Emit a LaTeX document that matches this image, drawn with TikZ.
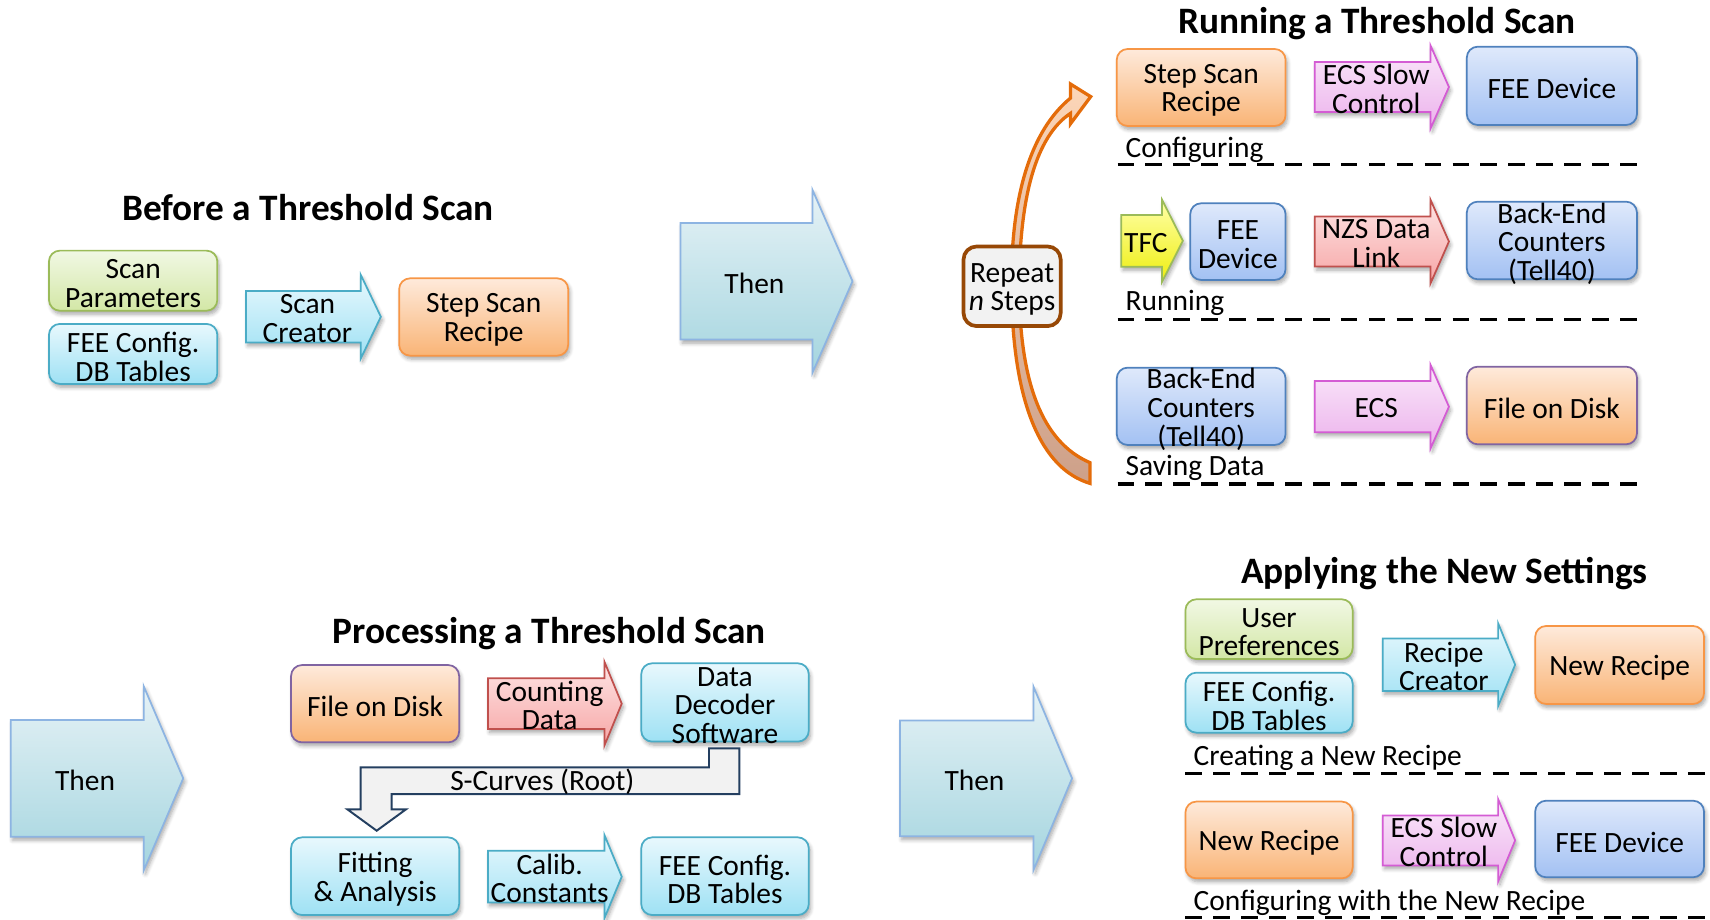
\documentclass[tikz,border=0pt]{standalone}
\usepackage{fontspec}
\setmainfont{Carlito}
\usetikzlibrary{shadows.blur}

% accent colours: borders
\definecolor{grnB}{HTML}{9BBB59}
\definecolor{cyaB}{HTML}{4BACC6}
\definecolor{orgB}{HTML}{F79646}
\definecolor{bluB}{HTML}{4F81BD}
\definecolor{purB}{HTML}{8064A2}
\definecolor{pnkB}{HTML}{D45CD4}
\definecolor{redB}{HTML}{C0504D}
\definecolor{thnB}{HTML}{8DB4E2}
\definecolor{brnB}{HTML}{974806}
\definecolor{crvB}{HTML}{E46C0A}
\definecolor{navB}{HTML}{243F60}
% gradient fills
\definecolor{grnT}{HTML}{F1F8E4}\definecolor{grnD}{HTML}{D3E7A6}
\definecolor{cyaT}{HTML}{E8F8FD}\definecolor{cyaD}{HTML}{9EE1F4}
\definecolor{orgT}{HTML}{FEEADB}\definecolor{orgD}{HTML}{F9B476}
\definecolor{bluT}{HTML}{DFE9FB}\definecolor{bluD}{HTML}{A3C1F3}
\definecolor{pnkT}{HTML}{FAE8FA}\definecolor{pnkD}{HTML}{ECB2EC}
\definecolor{redT}{HTML}{FDE4E4}\definecolor{redD}{HTML}{F7A6A6}
\definecolor{ylwT}{HTML}{FFFFA8}\definecolor{ylwD}{HTML}{EEEE10}
\definecolor{thnT}{HTML}{E6F2F6}\definecolor{thnD}{HTML}{A4D5DF}
\definecolor{crvT}{HTML}{FCD6B8}\definecolor{crvD}{HTML}{CDA089}
\definecolor{lgray}{HTML}{F2F2F2}

\newcommand\boxfont{\fontsize{13.5}{13.1}\selectfont}
\newcommand\headfont{\fontsize{17.1}{18}\selectfont\bfseries}

% rounded box from its corners: style, name, x1, y1, x2, y2, text
\newcommand\roundbox[7]{%
  \node[#1, minimum width={(#5-#3)*0.5pt}, minimum height={(#6-#4)*0.5pt}]
    (#2) at ({(#3+#5)/2},{(#4+#6)/2}) {};
  \node[boxtext] (#2-text) at ([yshift=-1.4pt]#2.center) {#7};}
% block arrow: style, name, x left, x head base, x tip, y centre,
% half body height, half head height, text
\newcommand\blockarrow[9]{%
  \path[#1] ({#3},{#6-#7}) -- ({#4},{#6-#7}) -- ({#4},{#6-#8}) -- ({#5},{#6})
    -- ({#4},{#6+#8}) -- ({#4},{#6+#7}) -- ({#3},{#6+#7}) -- cycle;
  \node[boxtext] (#2) at ({(#3+#4)/2+(#5-#4)*0.2},{#6+1.6}) {#9};}

\tikzset{
  softshadow/.style={blur shadow={shadow xshift=0.8pt, shadow yshift=-1.6pt,
      shadow blur radius=1.8pt, shadow blur steps=6, shadow opacity=35}},
  box/.style={draw, rounded corners=5pt, line width=0.8pt, inner sep=0pt, softshadow},
  boxtext/.style={align=center, inner sep=0pt, font=\boxfont},
  greenbox/.style={box, draw=grnB, top color=grnT, bottom color=grnD},
  cyanbox/.style={box, draw=cyaB, top color=cyaT, bottom color=cyaD},
  orangebox/.style={box, draw=orgB, top color=orgT, bottom color=orgD},
  diskbox/.style={box, draw=purB, top color=orgT, bottom color=orgD},
  bluebox/.style={box, draw=bluB, top color=bluT, bottom color=bluD},
  arrowshape/.style={line width=0.8pt, line join=miter, softshadow},
  cyanarrow/.style={arrowshape, draw=cyaB, top color=cyaT, bottom color=cyaD},
  pinkarrow/.style={arrowshape, draw=pnkB, top color=pnkT, bottom color=pnkD},
  redarrow/.style={arrowshape, draw=redB, top color=redT, bottom color=redD},
  yellowarrow/.style={arrowshape, draw=grnB, top color=ylwT, bottom color=ylwD},
  thenarrow/.style={arrowshape, draw=thnB, top color=thnT, bottom color=thnD},
  heading/.style={anchor=base, inner sep=0pt, font=\headfont},
  stage/.style={anchor=base west, inner sep=0pt, font=\boxfont},
  sepline/.style={line width=1.6pt, dash pattern=on 7.6pt off 5.2pt},
  repeatbox/.style={draw=brnB, line width=1.7pt, fill=lgray, rounded corners=6pt,
      inner sep=0pt},
  looparrow/.style={draw=crvB, line width=1.5pt, line join=miter,
      top color=crvT, bottom color=crvD},
  bentarrow/.style={draw=navB, line width=0.9pt, fill=lgray, line join=miter},
}

\begin{document}
\begin{tikzpicture}[x=0.5pt, y=-0.5pt]
\useasboundingbox (0,0) rectangle (1568,843);

% ---------- Before a Threshold Scan ----------
\node[heading] (hBefore) at (282.5,202.5) {Before a Threshold Scan};
\roundbox{greenbox}{scanpar}{44.9}{229.8}{199.3}{284.9}{Scan\\Parameters}
\roundbox{cyanbox}{feecfgA}{44.9}{297}{199.3}{352}{FEE Config.\\DB Tables}
\blockarrow{cyanarrow}{scancreator}{225.6}{330.9}{349.2}{290.4}{23.6}{38.2}{Scan\\Creator}
\roundbox{orangebox}{recipeA}{366}{255.2}{521}{326.1}{Step Scan\\Recipe}

\blockarrow{thenarrow}{thenA}{623.9}{745}{781.7}{257.9}{53.5}{83.8}{Then}

% ---------- Running a Threshold Scan ----------
\node[heading] (hRunning) at (1262.5,30.6) {Running a Threshold Scan};

% loop arrow behind the repeat box
\path[looparrow] (999.4,443.2) .. controls (955,430) and (928,370) .. (927.5,262)
  .. controls (927,180) and (945,120) .. (981.5,90) -- (981.5,77) -- (1000.1,88.6)
  -- (981.5,113.6) -- (981.5,104) .. controls (950,125) and (935,180) .. (934.5,262)
  .. controls (935,350) and (955,405) .. (999.4,424.2) -- cycle;
\roundbox{repeatbox}{repeat}{883.5}{226}{972.6}{299}{Repeat\\\textit{n} Steps}

% configuring
\roundbox{orangebox}{recipeB}{1024}{44.9}{1178.8}{115.5}{Step Scan\\Recipe}
\blockarrow{pinkarrow}{ecsslowA}{1205.5}{1311.8}{1328.6}{79.8}{22.9}{37.9}{ECS Slow\\Control}
\roundbox{bluebox}{feedevA}{1345}{42.8}{1501}{114.6}{FEE Device}
\node[stage] (lblConf) at (1031.8,144.4) {Configuring};
\draw[sepline] (1024.7,150.7) -- (1501,150.7);

% running
\blockarrow{yellowarrow}{tfc}{1028.2}{1065.6}{1084.6}{220.8}{23.7}{37.5}{TFC}
\roundbox{bluebox}{feedevB}{1091.4}{186.4}{1178.8}{256.7}{FEE\\Device}
\blockarrow{redarrow}{nzs}{1205.5}{1311.8}{1328.6}{221.5}{22.9}{38.2}{NZS Data\\Link}
\roundbox{bluebox}{backendA}{1345}{184.9}{1501}{256.1}{Back-End\\Counters\\(Tell40)}
\node[stage] (lblRun) at (1031.8,285) {Running};
\draw[sepline] (1024.7,292.8) -- (1501,292.8);

% saving data
\roundbox{bluebox}{backendB}{1024}{337.1}{1178.8}{408}{Back-End\\Counters\\(Tell40)}
\blockarrow{pinkarrow}{ecs}{1205.5}{1311.8}{1328.6}{372.9}{23.5}{38.2}{ECS}
\roundbox{diskbox}{diskA}{1345}{336.2}{1501}{407.4}{File on Disk}
\node[stage] (lblSave) at (1031.8,436.3) {Saving Data};
\draw[sepline] (1024.7,443.8) -- (1501,443.8);

\blockarrow{thenarrow}{thenB}{9.9}{131.7}{168}{713.7}{53.5}{84.6}{Then}

% ---------- Processing a Threshold Scan ----------
\node[heading] (hProc) at (503.8,589.9) {Processing a Threshold Scan};
\roundbox{diskbox}{diskB}{266.9}{609.8}{421}{680.7}{File on Disk}
\blockarrow{redarrow}{counting}{447.4}{554.2}{570.1}{645.2}{23.3}{38.5}{Counting\\Data}
\roundbox{cyanbox}{decoder}{588}{608.2}{741.6}{680}{Data\\Decoder\\Software}
\path[bentarrow] (650.1,686.2) -- (677.9,686.2) -- (677.9,728.1) -- (359.1,728.1)
  -- (359.1,742.1) -- (372.3,742.1) -- (345.4,761.7) -- (318.5,742.1)
  -- (330.7,742.1) -- (330.7,703.6) -- (650.1,703.6) -- cycle;
\node[boxtext] (scurves) at (497.3,716.5) {S-Curves (Root)};
\roundbox{cyanbox}{fitting}{266.9}{767.8}{421}{839}{Fitting\\\& Analysis}
\blockarrow{cyanarrow}{calib}{447.4}{554.2}{570.1}{803.8}{23.7}{38.2}{Calib.\\Constants}
\roundbox{cyanbox}{feecfgB}{588}{767.8}{741.6}{839}{FEE Config.\\DB Tables}

\blockarrow{thenarrow}{thenC}{825.3}{947.7}{983}{713.7}{53}{84}{Then}

% ---------- Applying the New Settings ----------
\node[heading] (hApply) at (1324.5,534.9) {Applying the New Settings};
\roundbox{greenbox}{userpref}{1087}{549.5}{1240.3}{604.3}{User\\Preferences}
\roundbox{cyanbox}{feecfgC}{1087}{616.8}{1240.3}{671.8}{FEE Config.\\DB Tables}
\blockarrow{cyanarrow}{recipecreator}{1267.9}{1373.7}{1389.3}{609.5}{24}{38}{Recipe\\Creator}
\roundbox{orangebox}{newrecipeA}{1407.7}{574}{1562.5}{645.5}{New Recipe}
\node[stage] (lblCreate) at (1094.2,702.2) {Creating a New Recipe};
\draw[sepline] (1087,709.1) -- (1568,709.1);

\roundbox{orangebox}{newrecipeB}{1087}{735}{1240.3}{805.4}{New Recipe}
\blockarrow{pinkarrow}{ecsslowB}{1267.9}{1373.7}{1389.3}{770.6}{22.9}{37.8}{ECS Slow\\Control}
\roundbox{bluebox}{feedevC}{1407.7}{734.2}{1562.5}{804.4}{FEE Device}
\node[stage] (lblConfNew) at (1094.2,835.1) {Configuring with the New Recipe};
\draw[sepline] (1087,841.1) -- (1568,841.1);
\end{tikzpicture}
\end{document}
